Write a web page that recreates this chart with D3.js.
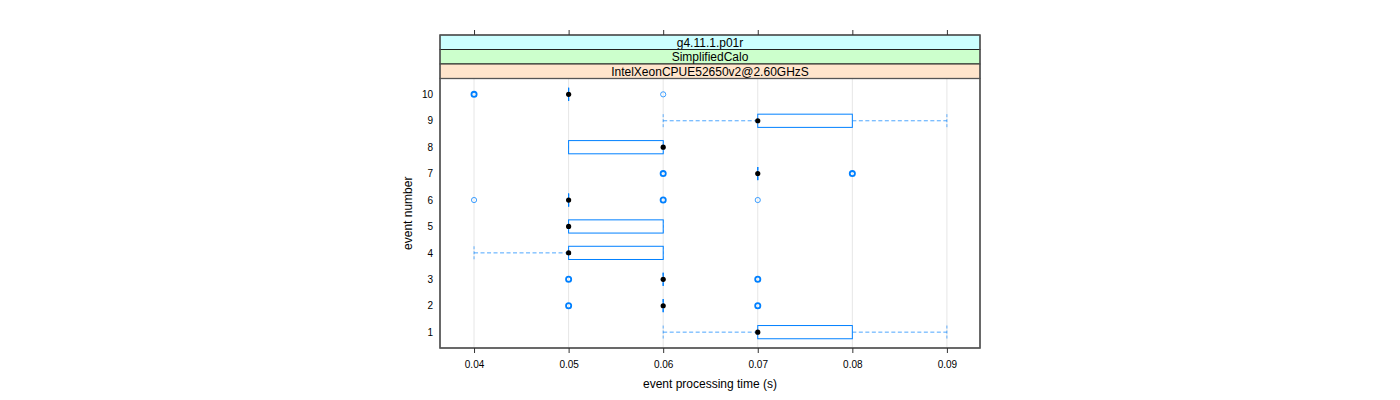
<!DOCTYPE html>
<html><head><meta charset="utf-8">
<script src="https://cdn.jsdelivr.net/npm/d3@7"></script>
<style>body{margin:0;background:#fff}svg{display:block}text{font-family:"Liberation Sans",Arial,sans-serif}</style>
</head><body><svg id="c" width="1400" height="400"></svg>
<script>
const events = [1,2,3,4,5,6,7,8,9,10];
const q1     = [0.07,0.06,0.06,0.05,0.05,0.05,0.07,0.05,0.07,0.05];
const median = [0.07,0.06,0.06,0.05,0.05,0.05,0.07,0.06,0.07,0.05];
const q3     = [0.08,0.06,0.06,0.06,0.06,0.05,0.07,0.06,0.08,0.05];
const whiskerLow  = [0.06,0.06,0.06,0.04,0.05,0.05,0.07,0.05,0.06,0.05];
const whiskerHigh = [0.09,0.06,0.06,0.06,0.06,0.05,0.07,0.06,0.09,0.05];
const outliers = [[],[0.05,0.05,0.07,0.07],[0.05,0.05,0.07,0.07],[],[],[0.04,0.06,0.06,0.07],[0.06,0.06,0.08,0.08],[],[],[0.04,0.04,0.06]];
const xTicks = [0.04,0.05,0.06,0.07,0.08,0.09];
const strips = ["g4.11.1.p01r","SimplifiedCalo","IntelXeonCPUE52650v2@2.60GHzS"];
const stripColors = ["#ccffff","#ccffcc","#ffe5cc"];

const svg = d3.select("#c");
const L=440,R=980,T=35,B=348, SH=14.5;
const plotTop = T + SH*strips.length;
const x = d3.scaleLinear().domain([0.0364,0.0935]).range([L,R]);
const y = d3.scaleLinear().domain([0.4,10.6]).range([B,plotTop]);
const blue="#0080ff";
const bh = (y(0)-y(1))*0.5;

// grid
svg.append("g").selectAll("line").data(xTicks).join("line")
  .attr("x1",d=>x(d)).attr("x2",d=>x(d)).attr("y1",plotTop).attr("y2",B)
  .attr("stroke","#e6e6e6").attr("stroke-width",1);

// strips
strips.forEach((s,i)=>{
  svg.append("rect").attr("x",L).attr("y",T+SH*i).attr("width",R-L).attr("height",SH)
    .attr("fill",stripColors[i]).attr("stroke","#222").attr("stroke-width",1);
  svg.append("text").attr("x",(L+R)/2).attr("y",T+SH*i+SH/2+4.3).attr("text-anchor","middle")
    .attr("font-size",12).attr("fill","#000").text(s);
});

const g = svg.append("g");
events.forEach((e,i)=>{
  const cy=y(e);
  // whiskers
  const dash="4,2.5";
  g.append("line").attr("x1",x(whiskerLow[i])).attr("x2",x(q1[i])).attr("y1",cy).attr("y2",cy)
    .attr("stroke",blue).attr("stroke-opacity",0.7).attr("stroke-dasharray",dash);
  g.append("line").attr("x1",x(q3[i])).attr("x2",x(whiskerHigh[i])).attr("y1",cy).attr("y2",cy)
    .attr("stroke",blue).attr("stroke-opacity",0.7).attr("stroke-dasharray",dash);
  [whiskerLow[i],whiskerHigh[i]].forEach(w=>{
    g.append("line").attr("x1",x(w)).attr("x2",x(w)).attr("y1",cy-bh/2).attr("y2",cy+bh/2)
      .attr("stroke",blue).attr("stroke-opacity",0.6).attr("stroke-dasharray","3,2");
  });
  // box
  g.append("rect").attr("x",x(q1[i])).attr("y",cy-bh/2).attr("width",x(q3[i])-x(q1[i])).attr("height",bh)
    .attr("fill","#fff").attr("stroke",blue).attr("stroke-width",1);
  if(q1[i]===q3[i]) g.append("line").attr("x1",x(q1[i])).attr("x2",x(q1[i])).attr("y1",cy-bh/2).attr("y2",cy+bh/2)
    .attr("stroke",blue).attr("stroke-width",1.2);
  // outliers
  const counts = d3.rollup(outliers[i], v=>v.length, d=>d);
  counts.forEach((n,v)=>{
    g.append("circle").attr("cx",x(v)).attr("cy",cy).attr("r",2.6)
      .attr("fill","none").attr("stroke",blue).attr("stroke-width",n>1?1.8:1).attr("stroke-opacity",n>1?1:0.75);
  });
  // median
  g.append("circle").attr("cx",x(median[i])).attr("cy",cy).attr("r",2.6).attr("fill","#000");
});

// panel border
svg.append("rect").attr("x",L).attr("y",plotTop).attr("width",R-L).attr("height",B-plotTop)
  .attr("fill","none").attr("stroke","#555").attr("stroke-width",1.3);
svg.append("rect").attr("x",L).attr("y",T).attr("width",R-L).attr("height",B-T)
  .attr("fill","none").attr("stroke","#555").attr("stroke-width",1.3);

// bottom axis
const xb = svg.append("g").attr("transform",`translate(0,${B})`)
  .call(d3.axisBottom(x).tickValues(xTicks).tickSize(5).tickPadding(8).tickFormat(d3.format(".2f")));
xb.select(".domain").remove();
xb.selectAll("line").attr("stroke","#333");
xb.selectAll("text").attr("font-size",10).attr("font-family","Liberation Sans, Arial, sans-serif").attr("fill","#000");
// top ticks
const xt = svg.append("g").attr("transform",`translate(0,${T})`)
  .call(d3.axisTop(x).tickValues(xTicks).tickSize(5).tickFormat(""));
xt.select(".domain").remove();
xt.selectAll("line").attr("stroke","#333");

// left labels
const ya = svg.append("g").attr("transform",`translate(${L},0)`)
  .call(d3.axisLeft(y).tickValues(events).tickSize(0).tickPadding(7).tickFormat(d3.format("d")));
ya.select(".domain").remove();
ya.selectAll("text").attr("font-size",10).attr("font-family","Liberation Sans, Arial, sans-serif").attr("fill","#000");

// titles
svg.append("text").attr("x",(L+R)/2).attr("y",388).attr("text-anchor","middle").attr("font-size",12).text("event processing time (s)");
svg.append("text").attr("transform",`translate(412,${(plotTop+B)/2}) rotate(-90)`).attr("text-anchor","middle").attr("font-size",12).text("event number");
</script></body></html>
